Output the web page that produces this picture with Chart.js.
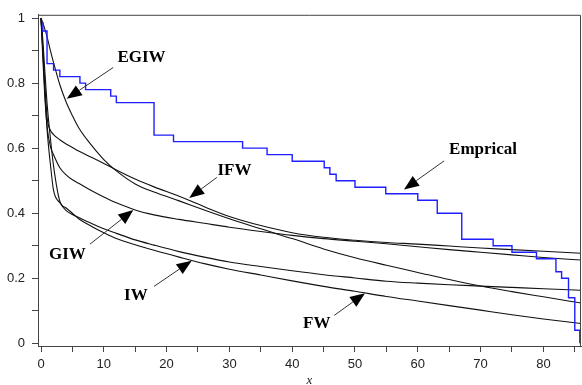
<!DOCTYPE html>
<html>
<head>
<meta charset="utf-8">
<script src="https://cdn.jsdelivr.net/npm/chart.js@4/dist/chart.umd.min.js"></script>
<style>
html,body{margin:0;padding:0;background:#fff;}
#c{display:block;}
</style>
</head>
<body>
<canvas id="c" width="582" height="385"></canvas>
<script>
// ---- data ----
const X     = [0,0.3,0.6,1,1.5,2,3,4,5,6,8,10,12,15,18,22,26,30,35,40,45,50,55,60,65,70,75,80,86];
const EGIW  = [1,0.985,0.967,0.94,0.90,0.863,0.795,0.742,0.70,0.663,0.61,0.565,0.53,0.49,0.465,0.438,0.41,0.383,0.352,0.322,0.29,0.263,0.24,0.218,0.196,0.176,0.159,0.143,0.124];
const IFW   = [1,0.9,0.8,0.69,0.655,0.642,0.626,0.613,0.602,0.591,0.572,0.553,0.533,0.505,0.481,0.452,0.42,0.39,0.362,0.34,0.326,0.317,0.31,0.305,0.299,0.293,0.288,0.283,0.277];
const GIW   = [1,0.87,0.76,0.66,0.605,0.58,0.54,0.518,0.503,0.492,0.47,0.45,0.432,0.41,0.395,0.381,0.369,0.357,0.344,0.332,0.322,0.314,0.306,0.297,0.288,0.28,0.272,0.264,0.256];
const IW    = [1,0.9,0.78,0.65,0.55,0.47,0.432,0.408,0.396,0.387,0.369,0.352,0.338,0.318,0.302,0.282,0.265,0.25,0.236,0.223,0.211,0.201,0.191,0.185,0.18,0.176,0.172,0.168,0.163];
const FW    = [1,0.93,0.84,0.73,0.63,0.545,0.437,0.416,0.4,0.383,0.36,0.34,0.322,0.303,0.286,0.265,0.245,0.228,0.21,0.192,0.175,0.16,0.144,0.13,0.116,0.102,0.088,0.075,0.061];

const empX = [0.25,0.3,0.96,2.0,3.0,6.2,7.1,11.1,12.0,18.0,21.1,32.1,36.0,40.0,45.1,46.0,47.0,50.0,54.9,60.0,63.1,67.0,72.0,75.0,78.9,82.0,82.9,84.0,85.0,85.8];
const empY = [0.985,0.96,0.86,0.84,0.82,0.80,0.78,0.76,0.74,0.64,0.62,0.60,0.58,0.56,0.54,0.52,0.50,0.48,0.46,0.44,0.40,0.32,0.30,0.28,0.26,0.22,0.20,0.14,0.04,0.0];

const xTickLabels = ['0','10','20','30','40','50','60','70','80'];
const yTickLabels = ['0','0.2','0.4','0.6','0.8','1'];

// annotations (data coordinates)
const annLabels = ['EGIW','IFW','GIW','IW','FW','Emprical'];
const annTextX  = [16.0, 30.8, 4.2, 15.1, 43.9, 70.4];
const annTextY  = [0.864, 0.518, 0.259, 0.134, 0.046, 0.583];
const annFromX  = [11.5, 28.0, 7.8, 18.0, 46.7, 64.2];
const annFromY  = [0.848, 0.51, 0.305, 0.175, 0.086, 0.561];
const annTipX   = [4.1, 23.6, 14.7, 24.0, 51.6, 57.8];
const annTipY   = [0.752, 0.447, 0.41, 0.254, 0.154, 0.473];

const pts = (xs, ys) => xs.map((v, i) => ({x: v, y: ys[i]}));
const curve = (label, ys) => ({
  label, data: pts(X, ys), borderColor: '#111', borderWidth: 1.1,
  pointRadius: 0, fill: false, cubicInterpolationMode: 'monotone'
});

const overlay = {
  id: 'overlay',
  afterDraw(chart) {
    const {ctx, chartArea: a, scales: {x, y}} = chart;
    ctx.save();
    // top and right frame
    ctx.strokeStyle = '#444';
    ctx.lineWidth = 1;
    ctx.beginPath();
    ctx.moveTo(a.left, a.top + 0.5);
    ctx.lineTo(a.right - 0.5, a.top + 0.5);
    ctx.lineTo(a.right - 0.5, a.bottom);
    ctx.stroke();
    // arrows
    for (let i = 0; i < annLabels.length; i++) {
      const fx = x.getPixelForValue(annFromX[i]), fy = y.getPixelForValue(annFromY[i]);
      const tx = x.getPixelForValue(annTipX[i]),  ty = y.getPixelForValue(annTipY[i]);
      const ang = Math.atan2(ty - fy, tx - fx);
      const hl = 15, hw = 6;
      const bx = tx - hl * Math.cos(ang), by = ty - hl * Math.sin(ang);
      ctx.strokeStyle = '#333';
      ctx.lineWidth = 1;
      ctx.beginPath();
      ctx.moveTo(fx, fy);
      ctx.lineTo(bx, by);
      ctx.stroke();
      ctx.fillStyle = '#000';
      ctx.beginPath();
      ctx.moveTo(tx, ty);
      ctx.lineTo(bx + hw * Math.sin(ang), by - hw * Math.cos(ang));
      ctx.lineTo(bx - hw * Math.sin(ang), by + hw * Math.cos(ang));
      ctx.closePath();
      ctx.fill();
      // label
      ctx.font = 'bold 17px "Liberation Serif", "Times New Roman", serif';
      ctx.textAlign = 'center';
      ctx.textBaseline = 'alphabetic';
      ctx.fillText(annLabels[i], x.getPixelForValue(annTextX[i]), y.getPixelForValue(annTextY[i]));
    }
    // axis title
    ctx.font = 'italic 13px "Liberation Serif", "Times New Roman", serif';
    ctx.fillStyle = '#222';
    ctx.textAlign = 'center';
    ctx.textBaseline = 'alphabetic';
    ctx.fillText('x', (a.left + a.right) / 2, 383.5);
    ctx.restore();
  }
};

new Chart(document.getElementById('c'), {
  type: 'line',
  data: {
    datasets: [
      {label: 'Emprical', data: pts(empX, empY), stepped: 'before', borderColor: 'rgb(30,30,255)',
       borderWidth: 1.4, pointRadius: 0, fill: false},
      curve('EGIW', EGIW),
      curve('IFW', IFW),
      curve('GIW', GIW),
      curve('IW', IW),
      curve('FW', FW)
    ]
  },
  plugins: [overlay],
  options: {
    responsive: false,
    animation: false,
    devicePixelRatio: 1,
    layout: {padding: {top: 12, right: 1, left: 0, bottom: 0}},
    plugins: {legend: {display: false}, tooltip: {enabled: false}},
    scales: {
      x: {
        type: 'linear', min: -0.478, max: 85.99,
        afterFit: s => { s.height = 39; },
        border: {display: true, color: '#444', width: 1},
        grid: {drawOnChartArea: false, drawTicks: true, tickLength: 6, tickColor: '#444'},
        ticks: {
          stepSize: 5, includeBounds: false, autoSkip: false, maxRotation: 0, padding: 5,
          color: '#222', font: {family: '"Liberation Sans", Arial, sans-serif', size: 13},
          callback: v => {
            const r = Math.round(v);
            return (r % 10 === 0) ? xTickLabels[r / 10] : '';
          }
        }
      },
      y: {
        type: 'linear', min: -0.0082, max: 1.010,
        afterFit: s => { s.width = 38; },
        border: {display: true, color: '#444', width: 1},
        grid: {drawOnChartArea: false, drawTicks: true, tickLength: 6, tickColor: '#444'},
        ticks: {
          stepSize: 0.1, includeBounds: false, autoSkip: false, padding: 7,
          color: '#222', font: {family: '"Liberation Sans", Arial, sans-serif', size: 13},
          callback: v => {
            const r = Math.round(v * 10);
            return (r % 2 === 0) ? yTickLabels[r / 2] : '';
          }
        }
      }
    }
  }
});
</script>
</body>
</html>
